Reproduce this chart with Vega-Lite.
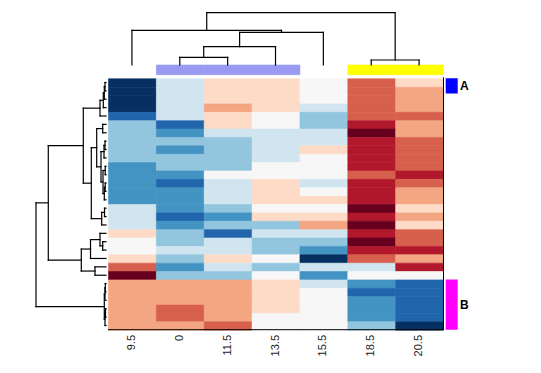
{
"$schema": "https://vega.github.io/schema/vega-lite/v6.json",
"width": 541, "height": 373,
"autosize": {"type": "fit", "contains": "padding"},
"padding": 0,
"background": "white",
"config": {"view": {"stroke": null}},
"datasets": {
"cells": [
{"r":0,"c":0,"v":-5},{"r":0,"c":1,"v":-1},{"r":0,"c":2,"v":1},{"r":0,"c":3,"v":1},{"r":0,"c":4,"v":0},{"r":0,"c":5,"v":3},{"r":0,"c":6,"v":1},
{"r":1,"c":0,"v":-5},{"r":1,"c":1,"v":-1},{"r":1,"c":2,"v":1},{"r":1,"c":3,"v":1},{"r":1,"c":4,"v":0},{"r":1,"c":5,"v":3},{"r":1,"c":6,"v":2},
{"r":2,"c":0,"v":-5},{"r":2,"c":1,"v":-1},{"r":2,"c":2,"v":1},{"r":2,"c":3,"v":1},{"r":2,"c":4,"v":0},{"r":2,"c":5,"v":3},{"r":2,"c":6,"v":2},
{"r":3,"c":0,"v":-5},{"r":3,"c":1,"v":-1},{"r":3,"c":2,"v":2},{"r":3,"c":3,"v":1},{"r":3,"c":4,"v":-1},{"r":3,"c":5,"v":3},{"r":3,"c":6,"v":2},
{"r":4,"c":0,"v":-4},{"r":4,"c":1,"v":-1},{"r":4,"c":2,"v":1},{"r":4,"c":3,"v":0},{"r":4,"c":4,"v":-2},{"r":4,"c":5,"v":3},{"r":4,"c":6,"v":3},
{"r":5,"c":0,"v":-2},{"r":5,"c":1,"v":-4},{"r":5,"c":2,"v":1},{"r":5,"c":3,"v":0},{"r":5,"c":4,"v":-2},{"r":5,"c":5,"v":4},{"r":5,"c":6,"v":2},
{"r":6,"c":0,"v":-2},{"r":6,"c":1,"v":-3},{"r":6,"c":2,"v":-1},{"r":6,"c":3,"v":-1},{"r":6,"c":4,"v":-1},{"r":6,"c":5,"v":5},{"r":6,"c":6,"v":2},
{"r":7,"c":0,"v":-2},{"r":7,"c":1,"v":-2},{"r":7,"c":2,"v":-2},{"r":7,"c":3,"v":-1},{"r":7,"c":4,"v":-1},{"r":7,"c":5,"v":4},{"r":7,"c":6,"v":3},
{"r":8,"c":0,"v":-2},{"r":8,"c":1,"v":-3},{"r":8,"c":2,"v":-2},{"r":8,"c":3,"v":-1},{"r":8,"c":4,"v":1},{"r":8,"c":5,"v":4},{"r":8,"c":6,"v":3},
{"r":9,"c":0,"v":-2},{"r":9,"c":1,"v":-2},{"r":9,"c":2,"v":-2},{"r":9,"c":3,"v":-1},{"r":9,"c":4,"v":0},{"r":9,"c":5,"v":4},{"r":9,"c":6,"v":3},
{"r":10,"c":0,"v":-3},{"r":10,"c":1,"v":-2},{"r":10,"c":2,"v":-2},{"r":10,"c":3,"v":0},{"r":10,"c":4,"v":0},{"r":10,"c":5,"v":4},{"r":10,"c":6,"v":3},
{"r":11,"c":0,"v":-3},{"r":11,"c":1,"v":-3},{"r":11,"c":2,"v":0},{"r":11,"c":3,"v":0},{"r":11,"c":4,"v":0},{"r":11,"c":5,"v":3},{"r":11,"c":6,"v":4},
{"r":12,"c":0,"v":-3},{"r":12,"c":1,"v":-4},{"r":12,"c":2,"v":-1},{"r":12,"c":3,"v":1},{"r":12,"c":4,"v":-1},{"r":12,"c":5,"v":4},{"r":12,"c":6,"v":3},
{"r":13,"c":0,"v":-3},{"r":13,"c":1,"v":-3},{"r":13,"c":2,"v":-1},{"r":13,"c":3,"v":1},{"r":13,"c":4,"v":0},{"r":13,"c":5,"v":4},{"r":13,"c":6,"v":2},
{"r":14,"c":0,"v":-3},{"r":14,"c":1,"v":-3},{"r":14,"c":2,"v":-1},{"r":14,"c":3,"v":1},{"r":14,"c":4,"v":1},{"r":14,"c":5,"v":4},{"r":14,"c":6,"v":2},
{"r":15,"c":0,"v":-1},{"r":15,"c":1,"v":-3},{"r":15,"c":2,"v":-2},{"r":15,"c":3,"v":0},{"r":15,"c":4,"v":0},{"r":15,"c":5,"v":5},{"r":15,"c":6,"v":1},
{"r":16,"c":0,"v":-1},{"r":16,"c":1,"v":-4},{"r":16,"c":2,"v":-3},{"r":16,"c":3,"v":1},{"r":16,"c":4,"v":1},{"r":16,"c":5,"v":4},{"r":16,"c":6,"v":2},
{"r":17,"c":0,"v":-1},{"r":17,"c":1,"v":-3},{"r":17,"c":2,"v":-2},{"r":17,"c":3,"v":-2},{"r":17,"c":4,"v":2},{"r":17,"c":5,"v":5},{"r":17,"c":6,"v":1},
{"r":18,"c":0,"v":1},{"r":18,"c":1,"v":-2},{"r":18,"c":2,"v":-4},{"r":18,"c":3,"v":-1},{"r":18,"c":4,"v":-1},{"r":18,"c":5,"v":4},{"r":18,"c":6,"v":3},
{"r":19,"c":0,"v":0},{"r":19,"c":1,"v":-2},{"r":19,"c":2,"v":-1},{"r":19,"c":3,"v":-2},{"r":19,"c":4,"v":-2},{"r":19,"c":5,"v":5},{"r":19,"c":6,"v":3},
{"r":20,"c":0,"v":0},{"r":20,"c":1,"v":-1},{"r":20,"c":2,"v":-1},{"r":20,"c":3,"v":-2},{"r":20,"c":4,"v":-3},{"r":20,"c":5,"v":4},{"r":20,"c":6,"v":4},
{"r":21,"c":0,"v":1},{"r":21,"c":1,"v":-2},{"r":21,"c":2,"v":1},{"r":21,"c":3,"v":0},{"r":21,"c":4,"v":-5},{"r":21,"c":5,"v":3},{"r":21,"c":6,"v":2},
{"r":22,"c":0,"v":3},{"r":22,"c":1,"v":-3},{"r":22,"c":2,"v":-1},{"r":22,"c":3,"v":-2},{"r":22,"c":4,"v":-1},{"r":22,"c":5,"v":-1},{"r":22,"c":6,"v":4},
{"r":23,"c":0,"v":5},{"r":23,"c":1,"v":-2},{"r":23,"c":2,"v":-2},{"r":23,"c":3,"v":0},{"r":23,"c":4,"v":-3},{"r":23,"c":5,"v":0},{"r":23,"c":6,"v":0},
{"r":24,"c":0,"v":2},{"r":24,"c":1,"v":2},{"r":24,"c":2,"v":2},{"r":24,"c":3,"v":1},{"r":24,"c":4,"v":-1},{"r":24,"c":5,"v":-3},{"r":24,"c":6,"v":-4},
{"r":25,"c":0,"v":2},{"r":25,"c":1,"v":2},{"r":25,"c":2,"v":2},{"r":25,"c":3,"v":1},{"r":25,"c":4,"v":0},{"r":25,"c":5,"v":-4},{"r":25,"c":6,"v":-4},
{"r":26,"c":0,"v":2},{"r":26,"c":1,"v":2},{"r":26,"c":2,"v":2},{"r":26,"c":3,"v":1},{"r":26,"c":4,"v":0},{"r":26,"c":5,"v":-3},{"r":26,"c":6,"v":-4},
{"r":27,"c":0,"v":2},{"r":27,"c":1,"v":3},{"r":27,"c":2,"v":2},{"r":27,"c":3,"v":1},{"r":27,"c":4,"v":0},{"r":27,"c":5,"v":-3},{"r":27,"c":6,"v":-4},
{"r":28,"c":0,"v":2},{"r":28,"c":1,"v":3},{"r":28,"c":2,"v":2},{"r":28,"c":3,"v":0},{"r":28,"c":4,"v":0},{"r":28,"c":5,"v":-3},{"r":28,"c":6,"v":-4},
{"r":29,"c":0,"v":2},{"r":29,"c":1,"v":2},{"r":29,"c":2,"v":3},{"r":29,"c":3,"v":0},{"r":29,"c":4,"v":0},{"r":29,"c":5,"v":-2},{"r":29,"c":6,"v":-5}
],
"segs": [
{"x":-0.0627,"x2":-0.0627,"y":0.5,"y2":1.5},{"x":-0.0627,"x2":-0.0418,"y":0.5,"y2":0.5},{"x":-0.0627,"x2":-0.0418,"y":1.5,"y2":1.5},
{"x":-0.0773,"x2":-0.0773,"y":1.0,"y2":2.5},{"x":-0.0773,"x2":-0.0627,"y":1.0,"y2":1.0},{"x":-0.0773,"x2":-0.0418,"y":2.5,"y2":2.5},
{"x":-0.0982,"x2":-0.0982,"y":1.75,"y2":3.5},{"x":-0.0982,"x2":-0.0773,"y":1.75,"y2":1.75},{"x":-0.0982,"x2":-0.0418,"y":3.5,"y2":3.5},
{"x":-0.1672,"x2":-0.1672,"y":2.625,"y2":4.5},{"x":-0.1672,"x2":-0.0982,"y":2.625,"y2":2.625},{"x":-0.1672,"x2":-0.0418,"y":4.5,"y2":4.5},
{"x":-0.1107,"x2":-0.1107,"y":5.5,"y2":6.5},{"x":-0.1107,"x2":-0.0418,"y":5.5,"y2":5.5},{"x":-0.1107,"x2":-0.0418,"y":6.5,"y2":6.5},
{"x":-0.0627,"x2":-0.0627,"y":7.5,"y2":8.5},{"x":-0.0627,"x2":-0.0418,"y":7.5,"y2":7.5},{"x":-0.0627,"x2":-0.0418,"y":8.5,"y2":8.5},
{"x":-0.0836,"x2":-0.0836,"y":8.0,"y2":9.5},{"x":-0.0836,"x2":-0.0627,"y":8.0,"y2":8.0},{"x":-0.0836,"x2":-0.0418,"y":9.5,"y2":9.5},
{"x":-0.0585,"x2":-0.0585,"y":10.5,"y2":11.5},{"x":-0.0585,"x2":-0.0418,"y":10.5,"y2":10.5},{"x":-0.0585,"x2":-0.0418,"y":11.5,"y2":11.5},
{"x":-0.0585,"x2":-0.0585,"y":12.5,"y2":13.5},{"x":-0.0585,"x2":-0.0418,"y":12.5,"y2":12.5},{"x":-0.0585,"x2":-0.0418,"y":13.5,"y2":13.5},
{"x":-0.0773,"x2":-0.0773,"y":13.0,"y2":14.5},{"x":-0.0773,"x2":-0.0585,"y":13.0,"y2":13.0},{"x":-0.0773,"x2":-0.0418,"y":14.5,"y2":14.5},
{"x":-0.1045,"x2":-0.1045,"y":11.0,"y2":13.75},{"x":-0.1045,"x2":-0.0585,"y":11.0,"y2":11.0},{"x":-0.1045,"x2":-0.0773,"y":13.75,"y2":13.75},
{"x":-0.1463,"x2":-0.1463,"y":8.75,"y2":12.375},{"x":-0.1463,"x2":-0.0836,"y":8.75,"y2":8.75},{"x":-0.1463,"x2":-0.1045,"y":12.375,"y2":12.375},
{"x":-0.2361,"x2":-0.2361,"y":6.0,"y2":10.5625},{"x":-0.2361,"x2":-0.1107,"y":6.0,"y2":6.0},{"x":-0.2361,"x2":-0.1463,"y":10.5625,"y2":10.5625},
{"x":-0.0731,"x2":-0.0731,"y":15.5,"y2":16.5},{"x":-0.0731,"x2":-0.0418,"y":15.5,"y2":15.5},{"x":-0.0731,"x2":-0.0418,"y":16.5,"y2":16.5},
{"x":-0.1316,"x2":-0.1316,"y":16.0,"y2":17.5},{"x":-0.1316,"x2":-0.0731,"y":16.0,"y2":16.0},{"x":-0.1316,"x2":-0.0418,"y":17.5,"y2":17.5},
{"x":-0.3489,"x2":-0.3489,"y":8.2813,"y2":16.75},{"x":-0.3489,"x2":-0.2361,"y":8.2813,"y2":8.2813},{"x":-0.3489,"x2":-0.1316,"y":16.75,"y2":16.75},
{"x":-0.5161,"x2":-0.5161,"y":3.5625,"y2":12.5156},{"x":-0.5161,"x2":-0.1672,"y":3.5625,"y2":3.5625},{"x":-0.5161,"x2":-0.3489,"y":12.5156,"y2":12.5156},
{"x":-0.1107,"x2":-0.1107,"y":19.5,"y2":20.5},{"x":-0.1107,"x2":-0.0418,"y":19.5,"y2":19.5},{"x":-0.1107,"x2":-0.0418,"y":20.5,"y2":20.5},
{"x":-0.1672,"x2":-0.1672,"y":18.5,"y2":20.0},{"x":-0.1672,"x2":-0.0418,"y":18.5,"y2":18.5},{"x":-0.1672,"x2":-0.1107,"y":20.0,"y2":20.0},
{"x":-0.3657,"x2":-0.3657,"y":19.25,"y2":21.5},{"x":-0.3657,"x2":-0.1672,"y":19.25,"y2":19.25},{"x":-0.3657,"x2":-0.0418,"y":21.5,"y2":21.5},
{"x":-0.2716,"x2":-0.2716,"y":22.5,"y2":23.5},{"x":-0.2716,"x2":-0.0418,"y":22.5,"y2":22.5},{"x":-0.2716,"x2":-0.0418,"y":23.5,"y2":23.5},
{"x":-0.5579,"x2":-0.5579,"y":20.375,"y2":23.0},{"x":-0.5579,"x2":-0.3657,"y":20.375,"y2":20.375},{"x":-0.5579,"x2":-0.2716,"y":23.0,"y2":23.0},
{"x":-1.2474,"x2":-1.2474,"y":8.0391,"y2":21.6875},{"x":-1.2474,"x2":-0.5161,"y":8.0391,"y2":8.0391},{"x":-1.2474,"x2":-0.5579,"y":21.6875,"y2":21.6875},
{"x":-0.0564,"x2":-0.0564,"y":24.5,"y2":25.5},{"x":-0.0564,"x2":-0.0418,"y":24.5,"y2":24.5},{"x":-0.0564,"x2":-0.0418,"y":25.5,"y2":25.5},
{"x":-0.0627,"x2":-0.0627,"y":25.0,"y2":26.5},{"x":-0.0627,"x2":-0.0564,"y":25.0,"y2":25.0},{"x":-0.0627,"x2":-0.0418,"y":26.5,"y2":26.5},
{"x":-0.0522,"x2":-0.0522,"y":27.5,"y2":28.5},{"x":-0.0522,"x2":-0.0418,"y":27.5,"y2":27.5},{"x":-0.0522,"x2":-0.0418,"y":28.5,"y2":28.5},
{"x":-0.0627,"x2":-0.0627,"y":28.0,"y2":29.5},{"x":-0.0627,"x2":-0.0522,"y":28.0,"y2":28.0},{"x":-0.0627,"x2":-0.0418,"y":29.5,"y2":29.5},
{"x":-0.0773,"x2":-0.0773,"y":25.75,"y2":28.75},{"x":-0.0773,"x2":-0.0627,"y":25.75,"y2":25.75},{"x":-0.0773,"x2":-0.0627,"y":28.75,"y2":28.75},
{"x":-1.5044,"x2":-1.5044,"y":14.8633,"y2":27.25},{"x":-1.5044,"x2":-1.2474,"y":14.8633,"y2":14.8633},{"x":-1.5044,"x2":-0.0773,"y":27.25,"y2":27.25},
{"x":1.5,"x2":2.5,"y":-2.506,"y2":-2.506},{"x":1.5,"x2":1.5,"y":-2.506,"y2":-1.587},{"x":2.5,"x2":2.5,"y":-2.506,"y2":-1.587},
{"x":2.0,"x2":3.5,"y":-3.771,"y2":-3.771},{"x":2.0,"x2":2.0,"y":-3.771,"y2":-2.506},{"x":3.5,"x2":3.5,"y":-3.771,"y2":-1.587},
{"x":2.75,"x2":4.5,"y":-5.489,"y2":-5.489},{"x":2.75,"x2":2.75,"y":-5.489,"y2":-3.771},{"x":4.5,"x2":4.5,"y":-5.489,"y2":-1.587},
{"x":0.5,"x2":3.625,"y":-5.728,"y2":-5.728},{"x":0.5,"x2":0.5,"y":-5.728,"y2":-1.587},{"x":3.625,"x2":3.625,"y":-5.728,"y2":-5.489},
{"x":5.5,"x2":6.5,"y":-2.184,"y2":-2.184},{"x":5.5,"x2":5.5,"y":-2.184,"y2":-1.587},{"x":6.5,"x2":6.5,"y":-2.184,"y2":-1.587},
{"x":2.0625,"x2":6.0,"y":-7.828,"y2":-7.828},{"x":2.0625,"x2":2.0625,"y":-7.828,"y2":-5.728},{"x":6.0,"x2":6.0,"y":-7.828,"y2":-2.184}
],
"colside": [{"c":1,"g":"g1"},{"c":2,"g":"g1"},{"c":3,"g":"g1"},{"c":5,"g":"g2"},{"c":6,"g":"g2"}],
"labels": [{"c":0,"t":"9.5"},{"c":1,"t":"0"},{"c":2,"t":"11.5"},{"c":3,"t":"13.5"},{"c":4,"t":"15.5"},{"c":5,"t":"18.5"},{"c":6,"t":"20.5"}],
"clusters": [{"k":"A","start":0,"end":1.8},{"k":"B","start":24,"end":30}]
},
"resolve": {"scale": {"color": "independent", "stroke": "independent"}},
"layer": [
{
"data": {"name": "cells"},
"mark": {"type": "rect", "binSpacing": 0, "strokeWidth": 0.6},
"encoding": {
"x": {"field": "c", "type": "quantitative", "bin": {"step": 1, "extent": [0, 7]}, "scale": {"domain": [-2.2566, 9.0472], "nice": false, "zero": false}, "axis": null},
"y": {"field": "r", "type": "quantitative", "bin": {"step": 1, "extent": [0, 30]}, "scale": {"domain": [-9.3437, 35.167], "nice": false, "zero": false, "reverse": true}, "axis": null},
"color": {"field": "v", "type": "ordinal", "scale": {"domain": [-5,-4,-3,-2,-1,0,1,2,3,4,5], "range": ["#053061","#2166ac","#4393c3","#92c5de","#d1e5f0","#f7f7f7","#fddbc7","#f4a582","#d6604d","#b2182b","#67001f"]}, "legend": null},
"stroke": {"field": "v", "type": "ordinal", "scale": {"domain": [-5,-4,-3,-2,-1,0,1,2,3,4,5], "range": ["#053061","#2166ac","#4393c3","#92c5de","#d1e5f0","#f7f7f7","#fddbc7","#f4a582","#d6604d","#b2182b","#67001f"]}, "legend": null}
}
},
{
"data": {"name": "colside"},
"mark": {"type": "rect", "binSpacing": 0, "strokeWidth": 0.6},
"encoding": {
"x": {"field": "c", "type": "quantitative", "bin": {"step": 1, "extent": [0, 7]}},
"y": {"datum": -1.587},
"y2": {"datum": -0.43},
"color": {"field": "g", "type": "nominal", "scale": {"domain": ["g1","g2"], "range": ["#9a9af2","#ffff00"]}, "legend": null},
"stroke": {"field": "g", "type": "nominal", "scale": {"domain": ["g1","g2"], "range": ["#9a9af2","#ffff00"]}, "legend": null}
}
},
{
"data": {"name": "clusters"},
"mark": {"type": "rect"},
"encoding": {
"x": {"datum": 7.056},
"x2": {"datum": 7.307},
"y": {"field": "start", "type": "quantitative"},
"y2": {"field": "end"},
"color": {"field": "k", "type": "nominal", "scale": {"domain": ["A","B"], "range": ["#0000ff","#ff00ff"]}, "legend": null}
}
},
{
"data": {"name": "clusters"},
"transform": [{"calculate": "(datum.start + datum.end) / 2", "as": "mid"}],
"mark": {"type": "text", "align": "left", "baseline": "middle", "fontSize": 12, "fontWeight": "bold", "font": "Liberation Sans", "color": "black"},
"encoding": {
"x": {"datum": 7.355},
"y": {"field": "mid", "type": "quantitative"},
"text": {"field": "k"}
}
},
{
"data": {"name": "segs"},
"mark": {"type": "rule", "color": "black", "strokeWidth": 1.2, "strokeCap": "square"},
"encoding": {
"x": {"field": "x", "type": "quantitative"},
"x2": {"field": "x2"},
"y": {"field": "y", "type": "quantitative"},
"y2": {"field": "y2"}
}
},
{
"data": {"values": [{}]},
"mark": {"type": "rule", "color": "black", "strokeWidth": 1},
"encoding": {"x": {"datum": 0}, "x2": {"datum": 7.01}, "y": {"datum": 30}}
},
{
"data": {"values": [{}]},
"mark": {"type": "rule", "color": "black", "strokeWidth": 1},
"encoding": {"x": {"datum": 7.01}, "y": {"datum": -0.12}, "y2": {"datum": 30}}
},
{
"data": {"name": "labels"},
"mark": {"type": "text", "angle": 270, "align": "right", "baseline": "middle", "fontSize": 11, "font": "Liberation Sans", "color": "#222"},
"encoding": {
"x": {"field": "c", "type": "quantitative", "bin": {"step": 1, "extent": [0, 7]}, "bandPosition": 0.5},
"y": {"datum": 30.63},
"text": {"field": "t"}
}
}
]
}
